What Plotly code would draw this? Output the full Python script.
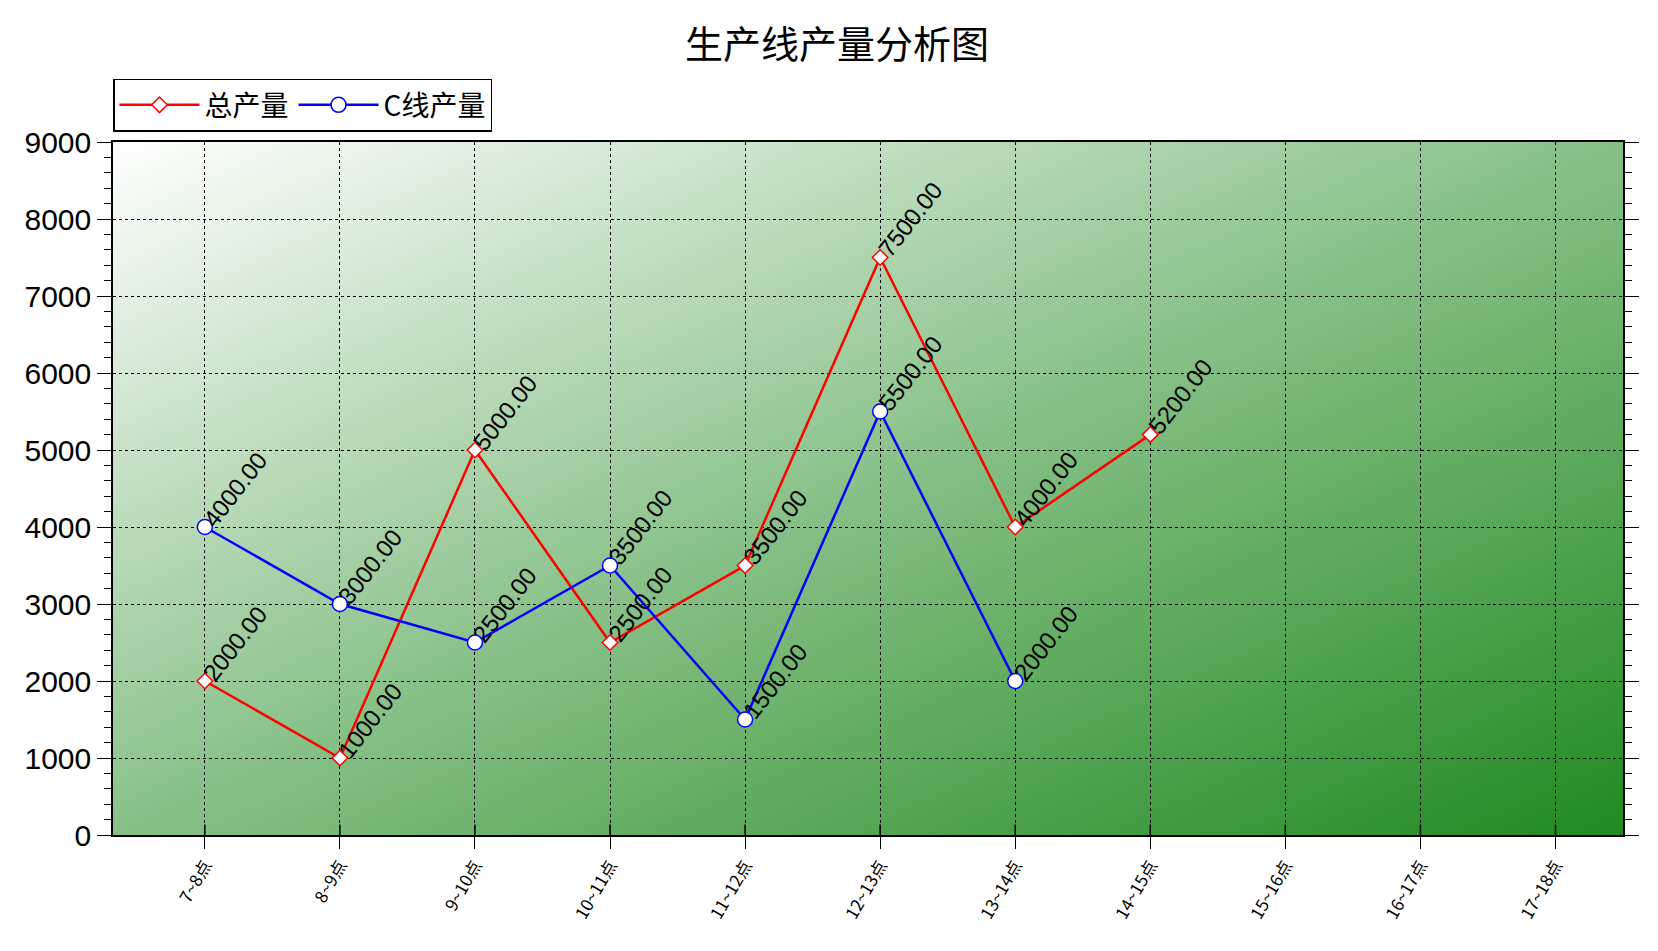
import plotly.graph_objects as go

categories = ['7~8点', '8~9点', '9~10点', '10~11点', '11~12点', '12~13点',
              '13~14点', '14~15点', '15~16点', '16~17点', '17~18点']
total_output = [2000, 1000, 5000, 2500, 3500, 7500, 4000, 5200]
c_line_output = [4000, 3000, 2500, 3500, 1500, 5500, 2000]

svg = ("data:image/svg+xml;utf8,<svg xmlns='http://www.w3.org/2000/svg' width='100' height='100' "
       "preserveAspectRatio='none'><defs><linearGradient id='g' x1='0' y1='0' x2='1' y2='1'>"
       "<stop offset='0' stop-color='%23ffffff'/><stop offset='0.5' stop-color='%2387c087'/>"
       "<stop offset='1' stop-color='%23208a20'/></linearGradient></defs>"
       "<rect width='100' height='100' fill='url(%23g)'/></svg>")

fig = go.Figure()
fig.add_trace(go.Scatter(x=categories[:len(total_output)], y=total_output, name='总产量',
                         mode='lines+markers', line=dict(color='red', width=2.5),
                         marker=dict(symbol='diamond', size=12, color='white',
                                     line=dict(color='red', width=1.5))))
fig.add_trace(go.Scatter(x=categories[:len(c_line_output)], y=c_line_output, name='C线产量',
                         mode='lines+markers', line=dict(color='blue', width=2.5),
                         marker=dict(symbol='circle', size=15, color='white',
                                     line=dict(color='blue', width=1.5))))

for series in (total_output, c_line_output):
    for i, v in enumerate(series):
        fig.add_annotation(x=categories[i], y=v, text=f'{v:.2f}', showarrow=False,
                           textangle=-52, xshift=30, yshift=38,
                           font=dict(size=24, color='black', family='Arial'))

fig.add_layout_image(source=svg, xref='paper', yref='paper', x=0, y=1,
                     sizex=1, sizey=1, sizing='stretch', layer='below')

fig.update_layout(
    width=1658, height=951, paper_bgcolor='white', plot_bgcolor='rgba(0,0,0,0)',
    margin=dict(l=105, r=43, t=134, b=124),
    font=dict(family='Arial, Noto Sans CJK SC', color='black'),
    title=dict(text='生产线产量分析图', x=0.5, xanchor='center', y=0.975, yanchor='top',
               font=dict(size=38, family='Noto Sans CJK SC')),
    legend=dict(orientation='h', x=0, y=1.015, xanchor='left', yanchor='bottom',
                bordercolor='black', borderwidth=1.5, bgcolor='white',
                font=dict(size=28, family='Noto Sans CJK SC'), itemwidth=80),
    showlegend=True,
)
fig.update_xaxes(categoryorder='array', categoryarray=categories, range=[-0.68, 10.5],
                 showline=True, linecolor='black', linewidth=1.5, mirror=True,
                 ticks='outside', ticklen=12, tickcolor='black', tickangle=-60,
                 tickfont=dict(size=17, family='Noto Sans CJK SC'),
                 showgrid=True, gridcolor='black', griddash='dot', gridwidth=1)
fig.update_yaxes(range=[0, 9000], dtick=1000, showline=True, linecolor='black',
                 linewidth=1.5, mirror='ticks', ticks='outside', ticklen=14,
                 tickcolor='black', tickfont=dict(size=30, family='Arial'),
                 showgrid=True, gridcolor='black', griddash='dot', gridwidth=1,
                 zeroline=False,
                 minor=dict(dtick=200, ticks='outside', ticklen=7, tickcolor='black',
                            showgrid=False))
for cat in categories:
    fig.add_annotation(x=cat, y=0, yref='y', text='', showarrow=True, arrowhead=0,
                       ax=0, ay=-12, arrowwidth=1.5, arrowcolor='black')

fig.write_html('out.html')
